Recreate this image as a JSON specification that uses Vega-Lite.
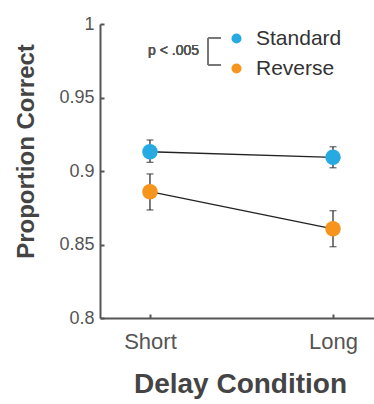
{
  "$schema": "https://vega.github.io/schema/vega-lite/v6.json",
  "width": 274,
  "height": 294,
  "autosize": {"type": "none"},
  "padding": {"left": 100, "top": 24, "right": 0, "bottom": 86},
  "background": "white",
  "config": {
    "view": {"stroke": null},
    "font": "Liberation Sans"
  },
  "data": {
    "values": [
      {"delay": 1, "condition": "Standard", "mean": 0.9131, "lo": 0.9059, "hi": 0.9211},
      {"delay": 2, "condition": "Standard", "mean": 0.9093, "lo": 0.9022, "hi": 0.9165},
      {"delay": 1, "condition": "Reverse", "mean": 0.8859, "lo": 0.8735, "hi": 0.8980},
      {"delay": 2, "condition": "Reverse", "mean": 0.8607, "lo": 0.8485, "hi": 0.8730}
    ]
  },
  "encoding": {
    "x": {
      "field": "delay", "type": "quantitative",
      "scale": {"domain": [0.727, 2.224], "nice": false, "zero": false},
      "axis": {
        "title": "Delay Condition", "values": [1, 2],
        "labelExpr": "datum.value == 1 ? 'Short' : 'Long'",
        "grid": false, "domainColor": "#555", "domainWidth": 2,
        "tickColor": "#555", "tickWidth": 2, "tickSize": -4,
        "labelFont": "Liberation Sans", "labelFontWeight": "normal",
        "labelFontSize": 22, "labelColor": "#555", "labelPadding": 17,
        "labelFlush": false,
        "titleFont": "Liberation Sans",
        "titleFontSize": 28, "titleFontWeight": "bold", "titleColor": "#444",
        "titleX": 140, "titleY": 74, "titleBaseline": "alphabetic", "titleAnchor": "middle"
      }
    },
    "y": {
      "field": "mean", "type": "quantitative",
      "scale": {"domain": [0.8, 1], "nice": false, "zero": false},
      "axis": {
        "title": "Proportion Correct", "values": [0.8, 0.85, 0.9, 0.95, 1],
        "format": "~g", "grid": false,
        "domainColor": "#555", "domainWidth": 2,
        "tickColor": "#555", "tickWidth": 2, "tickSize": -4,
        "labelFont": "Liberation Sans", "labelFontWeight": "normal",
        "labelFontSize": 18, "labelColor": "#555", "labelPadding": 10,
        "labelFlush": false,
        "titleFont": "Liberation Sans",
        "titleFontSize": 24, "titleFontWeight": "bold", "titleColor": "#444",
        "titleX": -67, "titleY": 127, "titleBaseline": "alphabetic", "titleAnchor": "middle"
      }
    }
  },
  "layer": [
    {
      "mark": {"type": "line", "color": "#222", "strokeWidth": 1.3},
      "encoding": {"detail": {"field": "condition"}}
    },
    {
      "mark": {"type": "errorbar", "ticks": {"size": 7}, "color": "#333", "thickness": 1.3},
      "encoding": {
        "y": {"field": "lo", "type": "quantitative"},
        "y2": {"field": "hi"},
        "detail": {"field": "condition"}
      }
    },
    {
      "mark": {"type": "point", "filled": true, "opacity": 1, "size": 240},
      "encoding": {
        "color": {
          "field": "condition", "type": "nominal",
          "scale": {"domain": ["Standard", "Reverse"], "range": ["#27AAE1", "#F7941D"]},
          "legend": {
            "title": null, "orient": "none", "legendX": 126, "legendY": 4,
            "symbolType": "circle", "symbolSize": 100, "symbolOpacity": 1,
            "labelFont": "Liberation Sans", "labelFontWeight": "normal",
            "labelFontSize": 21, "labelColor": "#333", "labelOffset": 9,
            "rowPadding": 8, "padding": 0
          }
        }
      }
    },
    {
      "mark": {"type": "rule", "color": "#777", "strokeWidth": 1.5},
      "encoding": {
        "x": {"datum": 1.317, "type": "quantitative"},
        "y": {"datum": 0.9905, "type": "quantitative"},
        "y2": {"datum": 0.9721}
      }
    },
    {
      "mark": {"type": "rule", "color": "#777", "strokeWidth": 1.5},
      "encoding": {
        "x": {"datum": 1.317, "type": "quantitative"},
        "x2": {"datum": 1.388},
        "y": {"datum": 0.9905, "type": "quantitative"}
      }
    },
    {
      "mark": {"type": "rule", "color": "#777", "strokeWidth": 1.5},
      "encoding": {
        "x": {"datum": 1.317, "type": "quantitative"},
        "x2": {"datum": 1.388},
        "y": {"datum": 0.9721, "type": "quantitative"}
      }
    },
    {
      "mark": {"type": "text", "align": "right", "baseline": "middle", "fontSize": 14, "fontWeight": "normal", "font": "Liberation Sans", "color": "#555"},
      "encoding": {
        "x": {"datum": 1.268, "type": "quantitative"},
        "y": {"datum": 0.9816, "type": "quantitative"},
        "text": {"value": "p < .005"}
      }
    }
  ]
}
